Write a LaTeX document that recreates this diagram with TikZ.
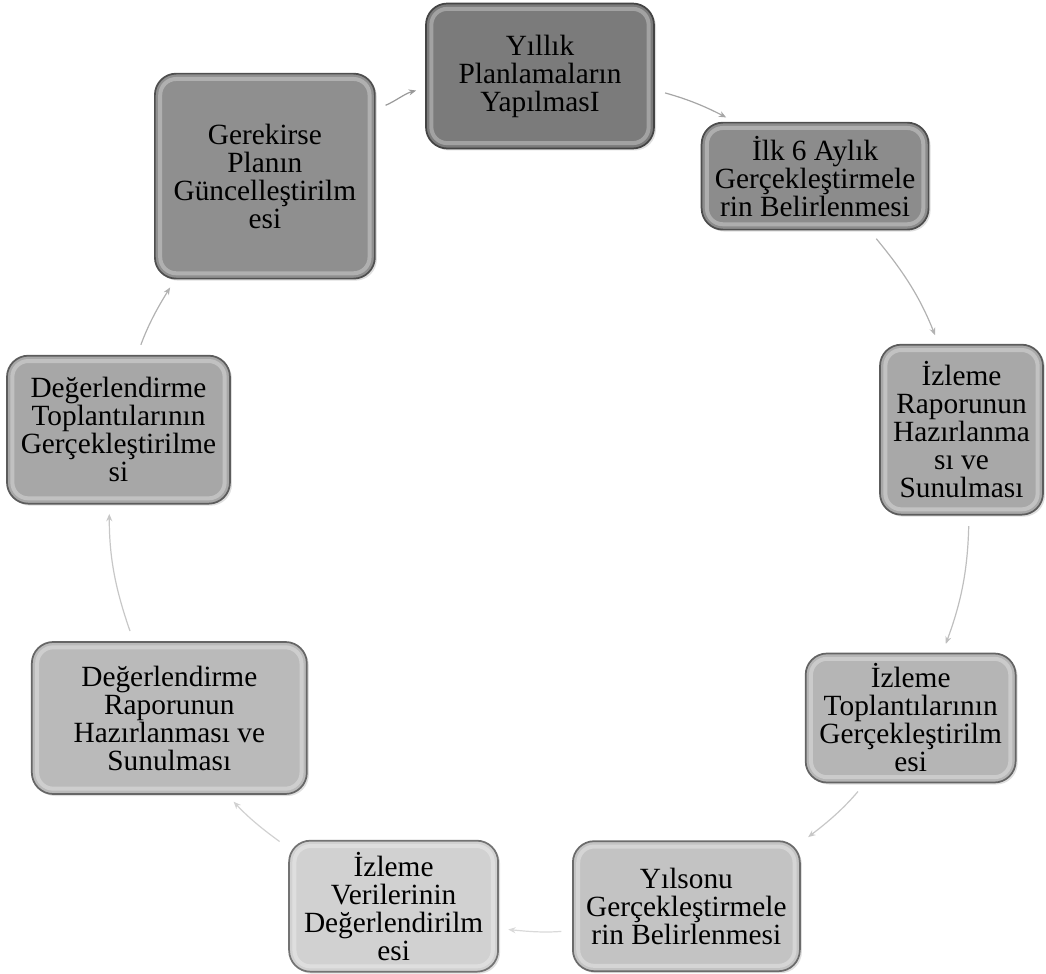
\documentclass[tikz,border=0pt]{standalone}
\usepackage{fontspec}
\setmainfont{Liberation Serif}
\usepackage{tikz}
\usetikzlibrary{arrows.meta}
\usetikzlibrary{shadows}

\definecolor{gPlan}{HTML}{7B7B7B}
\definecolor{gIlk}{HTML}{8C8C8C}
\definecolor{gRapor}{HTML}{A8A8A8}
\definecolor{gIzlTop}{HTML}{B5B5B5}
\definecolor{gYilsonu}{HTML}{C3C3C3}
\definecolor{gVeri}{HTML}{D1D1D1}
\definecolor{gDegRap}{HTML}{BABABA}
\definecolor{gDegTop}{HTML}{A7A7A7}
\definecolor{gGuncel}{HTML}{8F8F8F}

\begin{document}
\begin{tikzpicture}[x=0.75pt,y=0.75pt,
    stepbox/.style={fill=#1, draw=#1!55!black},
    link/.style={draw=#1, line width=0.9pt, -{Stealth[length=5.5pt,width=4.5pt]},
      shorten <=8pt, shorten >=7pt}]

  \useasboundingbox (-540,-470) rectangle (506,504);

      \begin{scope}[every node/.style={rounded corners=16pt, line width=1.3pt,
            align=center, inner sep=3pt, font=\fontsize{22}{21}\selectfont,
            drop shadow={opacity=.25,shadow xshift=1.5pt,shadow yshift=-1.5pt},
            path picture={
              \draw[white, opacity=.3, line width=3pt, rounded corners=12pt]
                ([xshift=4pt,yshift=4pt]path picture bounding box.south west) rectangle
                ([xshift=-4pt,yshift=-4pt]path picture bounding box.north east);
            }}]
        \node[stepbox=gPlan, minimum width=171pt, minimum height=108.75pt] (plan) at (90:428)
          {Yıllık\\Planlamaların\\YapılmasI};
        \node[stepbox=gIlk, minimum width=170.25pt, minimum height=80.25pt] (ilk) at (50:428)
          {İlk 6 Aylık\\Gerçekleştirmele\\rin Belirlenmesi};
        \node[stepbox=gRapor, minimum width=122.25pt, minimum height=127.5pt] (rapor) at (10:428)
          {İzleme\\Raporunun\\Hazırlanma\\sı ve\\Sunulması};
        \node[stepbox=gIzlTop, minimum width=157.5pt, minimum height=96.75pt] (izltop) at (-30:428)
          {İzleme\\Toplantılarının\\Gerçekleştirilm\\esi};

        \node[stepbox=gYilsonu, minimum width=170.25pt, minimum height=97.5pt] (yilsonu) at (-70:428)
          {Yılsonu\\Gerçekleştirmele\\rin Belirlenmesi};
        \node[stepbox=gVeri, minimum width=156.75pt, minimum height=98.25pt] (veri) at (-110:428)
          {İzleme\\Verilerinin\\Değerlendirilm\\esi};

        \node[stepbox=gDegRap, minimum width=206.25pt, minimum height=114pt] (degrap) at (-150:428)
          {Değerlendirme\\Raporunun\\Hazırlanması ve\\Sunulması};
        \node[stepbox=gDegTop, minimum width=167.25pt, minimum height=111pt] (degtop) at (170:428)
          {Değerlendirme\\Toplantılarının\\Gerçekleştirilme\\si};
        \node[stepbox=gGuncel, minimum width=165pt, minimum height=153.75pt] (guncel) at (130:428)
          {Gerekirse\\Planın\\Güncelleştirilm\\esi};
      \end{scope}

      \begin{scope}%[every node/.style={fill=white}]
        \draw [link=black!40] (guncel.31.5) to[out=23,in=195.2] (plan.186.8);
        \draw [link=black!35] (plan.-7.1) to[out=-15.5,in=152.4] (ilk.146);

        \draw [link=black!30] (ilk.-45.3) to[out=-50.4,in=111.7] (rapor.105.8);
        \draw [link=black!25] (rapor.-85.7) to[out=-91.5,in=69.7] (izltop.64.8);
        \draw [link=black!22] (izltop.235.1) to[out=-130.3,in=37.5] (yilsonu.29);

        \draw [link=black!15] (yilsonu.192.2) to[out=184.7,in=-5.7] (veri.-12.6);
        \draw [link=black!18] (veri.151.8) to[out=144.1,in=-47] (degrap.-53.7);

        \draw [link=black!22] (degrap.115.2) to[out=109.1,in=269.9] (degtop.263.4);
        \draw [link=black!30] (degtop.76.3) to[out=69.7,in=238.3] (guncel.229.1);
      \end{scope}
\end{tikzpicture}
\end{document}
